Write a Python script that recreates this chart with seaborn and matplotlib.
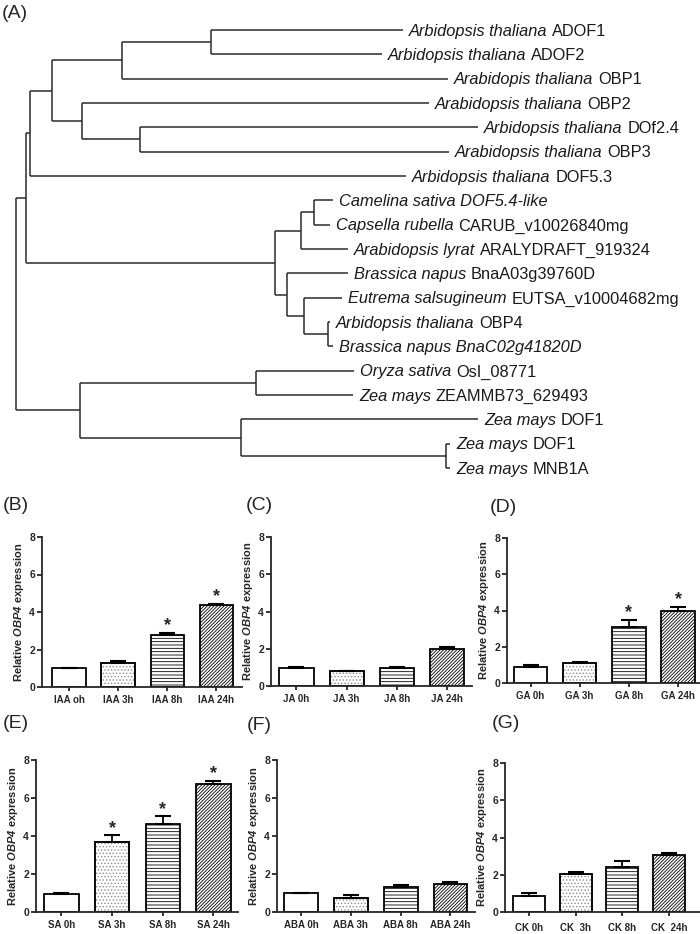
import numpy as np
import pandas as pd
import matplotlib
matplotlib.use("Agg")
import matplotlib.pyplot as plt
from matplotlib.patches import Rectangle
import seaborn as sns

sns.set_style("ticks")
plt.rcParams["font.family"] = ["Liberation Sans", "DejaVu Sans"]
plt.rcParams["mathtext.fontset"] = "custom"
plt.rcParams["mathtext.bf"] = "Liberation Sans:bold:italic"
plt.rcParams["hatch.linewidth"] = 0.6

W, H = 700, 934

# ---- tree data: leaf = (italic part, plain part, branch length); node = ([children], branch length)
tree = ([
    ([
        ([
            ([
                ([
                    ([("Arbidopsis thaliana", "ADOF1", 192),
                      ("Arbidopsis thaliana", "ADOF2", 171)], 89),
                    ("Arabidopis thaliana", "OBP1", 326),
                ], 70),
                ([
                    ("Arabidopsis thaliana", "OBP2", 347),
                    ([("Arbidopsis thaliana", "DOf2.4", 338),
                      ("Arabidopsis thaliana", "OBP3", 309)], 58),
                ], 30),
            ], 22),
            ("Arbidopsis thaliana", "DOF5.3", 376),
        ], 4),
        ([
            ([
                ([("Camelina sativa DOF5.4-like", "", 19),
                  ("Capsella rubella", "CARUB_v10026840mg", 16)], 13),
                ("Arabidopsis lyrat", "ARALYDRAFT_919324", 47),
            ], 26),
            ([
                ("Brassica napus", "BnaA03g39760D", 61),
                ([
                    ("Eutrema salsugineum", "EUTSA_v10004682mg", 38),
                    ([("Arbidopsis thaliana", "OBP4", 2),
                      ("Brassica napus BnaC02g41820D", "", 5)], 24),
                ], 17),
            ], 12),
        ], 249),
    ], 10),
    ([
        ([("Oryza sativa", "OsI_08771", 98),
          ("Zea mays", "ZEAMMB73_629493", 97)], 176),
        ([
            ("Zea mays", "DOF1", 237),
            ([("Zea mays", "DOF1", 4),
              ("Zea mays", "MNB1A", 4)], 205),
        ], 161),
    ], 64),
], 0)

ROOT_X = 16
LEAF_TOP, LEAF_STEP = 30, 24.33

# ---- bar data
groups = ["IAA", "JA", "GA", "SA", "ABA", "CK"]
labels = {
    "IAA": ["IAA oh", "IAA 3h", "IAA 8h", "IAA 24h"],
    "JA": ["JA 0h", "JA 3h", "JA 8h", "JA 24h"],
    "GA": ["GA 0h", "GA 3h", "GA 8h", "GA 24h"],
    "SA": ["SA 0h", "SA 3h", "SA 8h", "SA 24h"],
    "ABA": ["ABA 0h", "ABA 3h", "ABA 8h", "ABA 24h"],
    "CK": ["CK 0h", "CK  3h", "CK 8h", "CK  24h"],
}
means = {
    "IAA": [1.0, 1.3, 2.75, 4.35],
    "JA": [0.95, 0.8, 0.95, 2.0],
    "GA": [0.9, 1.1, 3.1, 4.0],
    "SA": [0.95, 3.68, 4.65, 6.75],
    "ABA": [0.98, 0.75, 1.33, 1.5],
    "CK": [0.88, 2.06, 2.4, 3.08],
}
errs = {
    "IAA": [0.0, 0.08, 0.15, 0.08],
    "JA": [0.06, 0.02, 0.05, 0.08],
    "GA": [0.1, 0.08, 0.38, 0.2],
    "SA": [0.06, 0.35, 0.38, 0.15],
    "ABA": [0.04, 0.14, 0.08, 0.08],
    "CK": [0.15, 0.08, 0.36, 0.07],
}
signif = {
    "IAA": [0, 0, 1, 1],
    "JA": [0, 0, 0, 0],
    "GA": [0, 0, 1, 1],
    "SA": [0, 1, 1, 1],
    "ABA": [0, 0, 0, 0],
    "CK": [0, 0, 0, 0],
}
panel_letters = ["(B)", "(C)", "(D)", "(E)", "(F)", "(G)"]

# layout in pixels: left spine x, right end x, y of value 0, y of value 8, xlim
layout = {
    "IAA": (42, 242, 687, 537, (-0.549, 3.519)),
    "JA": (271, 472, 686, 537, (-0.508, 3.498)),
    "GA": (507, 700, 683, 538, (-0.478, 3.447)),
    "SA": (36, 238, 912, 760, (-0.503, 3.484)),
    "ABA": (277, 475, 912, 760, (-0.482, 3.492)),
    "CK": (505, 700, 912, 763, (-0.514, 3.664)),
}
letter_pos = [(3, 505), (246, 505), (490, 507), (3, 724), (247, 725), (492, 724)]
hatches = ["", ".....", "-----", "//////////"]

fig = plt.figure(figsize=(W / 100, H / 100), dpi=100)

# ---- tree panel
tax = fig.add_axes([0, 1 - 490 / H, 1, 490 / H])
tax.set_xlim(0, W)
tax.set_ylim((490 - LEAF_TOP) / LEAF_STEP, -LEAF_TOP / LEAF_STEP)
tax.axis("off")

line_kw = dict(color="#2b2b2b", lw=1.1, solid_capstyle="butt")
leaf_counter = [0]


def draw(node, parent_x):
    if isinstance(node[0], str):
        ital, plain, length = node
        y = leaf_counter[0]
        leaf_counter[0] += 1
        x = parent_x + length
        tax.plot([parent_x, x], [y, y], **line_kw)
        t = tax.annotate(ital, xy=(x, y), xytext=(4.5, -4.2), textcoords="offset points",
                         fontsize=11.8, style="italic", va="baseline", ha="left", color="#1a1a1a")
        if plain:
            tax.annotate(plain, xy=(1, y), xycoords=(t, "data"), xytext=(3.3, -4.2),
                         textcoords="offset points", fontsize=11.8, va="baseline",
                         ha="left", color="#1a1a1a")
        return y
    children, length = node
    x = parent_x + length
    ys = [draw(c, x) for c in children]
    y = np.mean([min(ys), max(ys)])
    tax.plot([x, x], [min(ys), max(ys)], **line_kw)
    if length > 0:
        tax.plot([parent_x, x], [y, y], **line_kw)
    return y


draw(tree, ROOT_X)
fig.text(2 / W, 1 - 13 / H, "(A)", fontsize=14, va="center", ha="left")

# ---- bar panels
for g, letter, (lx, ly) in zip(groups, panel_letters, letter_pos):
    left, right, y0, y8, xlim = layout[g]
    ax = fig.add_axes([left / W, 1 - y0 / H, (right - left) / W, (y0 - y8) / H])
    df = pd.DataFrame({"label": labels[g], "value": means[g]})
    sns.barplot(data=df, x="label", y="value", ax=ax, color="white", edgecolor="black",
                linewidth=1.3, width=0.68, saturation=1)
    for i, p in enumerate(list(ax.patches)):
        p.set_hatch(hatches[i])
        if hatches[i].startswith("."):
            p.set_edgecolor("0.55")
            ax.add_patch(Rectangle(p.get_xy(), p.get_width(), p.get_height(), fill=False,
                                   edgecolor="black", linewidth=1.3, zorder=p.get_zorder() + 0.1))
    x = np.arange(len(means[g]))
    ax.errorbar(x, means[g], yerr=[np.zeros(len(x)), errs[g]], fmt="none", ecolor="black",
                elinewidth=1.3, capsize=6, capthick=1.5, zorder=1)
    for i in x:
        if signif[g][i]:
            ax.annotate("*", xy=(i, means[g][i] + errs[g][i]), xytext=(0, -1),
                        textcoords="offset points", ha="center", va="bottom",
                        fontsize=13, fontweight="bold")
    ax.set_xlim(*xlim)
    ax.set_ylim(0, 8)
    ax.set_yticks([0, 2, 4, 6, 8])
    ax.set_xlabel("")
    ax.set_ylabel(r"Relative $\mathbf{OBP4}$ expression", fontsize=8, fontweight="bold",
                  labelpad=2)
    sns.despine(ax=ax)
    for s in ["left", "bottom"]:
        ax.spines[s].set_linewidth(1.3)
    ax.tick_params(axis="y", labelsize=7.5, width=1.3, length=3.5, pad=1.5)
    ax.tick_params(axis="x", labelsize=7, width=1.3, length=3, pad=5 if g == "CK" else 3)
    for lab in ax.get_xticklabels() + ax.get_yticklabels():
        lab.set_fontweight("bold")
    fig.text(lx / W, 1 - ly / H, letter, fontsize=14, va="center", ha="left")

fig.savefig("out.png", dpi=100)
